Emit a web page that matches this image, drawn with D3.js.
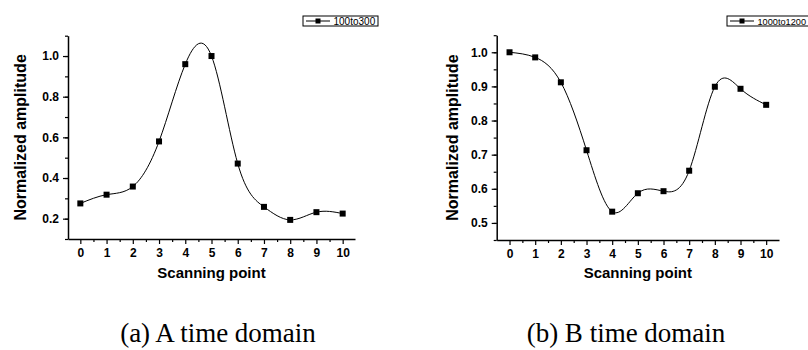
<!DOCTYPE html>
<html>
<head>
<meta charset="utf-8">
<script src="https://cdn.jsdelivr.net/npm/d3@7"></script>
<style>
  body { margin: 0; background: #fff; }
  svg { display: block; }
  .axis text { font-family: "Liberation Sans", Arial, sans-serif; font-weight: bold; font-size: 12px; }
  .title { font-family: "Liberation Sans", Arial, sans-serif; font-weight: bold; }
  .caption { font-family: "Liberation Serif", "Times New Roman", serif; font-size: 27px; }
  .legend text { font-family: "Liberation Sans", Arial, sans-serif; font-size: 10px; fill: #000; }
</style>
</head>
<body>
<svg id="chart" width="808" height="350"></svg>
<script>
// data
const scanPoints = [0, 1, 2, 3, 4, 5, 6, 7, 8, 9, 10];
const ampA = [0.275, 0.318, 0.358, 0.580, 0.960, 1.000, 0.471, 0.258, 0.194, 0.232, 0.225];
const ampB = [1.000, 0.985, 0.912, 0.713, 0.533, 0.587, 0.593, 0.653, 0.899, 0.893, 0.846];
const seriesNames = ['100to300', '1000to1200'];
const captions = ['(a) A time domain', '(b) B time domain'];
const yTicksA = [0.2, 0.4, 0.6, 0.8, 1.0];
const yTicksB = [0.5, 0.6, 0.7, 0.8, 0.9, 1.0];

const svg = d3.select('#chart');

const panels = [
    { values: ampA, name: seriesNames[0], caption: captions[0],
      xDomain: [-0.47, 10.47], xRange: [68, 355],
      yDomain: [0.1, 1.1], yRange: [239, 35.7],
      yTicks: yTicksA, yMinor: d3.range(0.1, 1.11, 0.1),
      legendX: 303, legendW: 75, legendFont: 10, yTitleX: 26, capX: 218 },
    { values: ampB, name: seriesNames[1], caption: captions[1],
      xDomain: [-0.5, 10.5], xRange: [496.7, 779],
      yDomain: [0.45, 1.05], yRange: [240, 35.2],
      yTicks: yTicksB, yMinor: d3.range(0.45, 1.051, 0.05),
      legendX: 727, legendW: 90, legendFont: 9.2, yTitleX: 458, capX: 626 }
];

panels.forEach(p => {
    const data = scanPoints.map((s, i) => ({ x: s, y: p.values[i] }));

    const xScale = d3.scaleLinear().domain(p.xDomain).range(p.xRange);
    const yScale = d3.scaleLinear().domain(p.yDomain).range(p.yRange);
    const yBottom = p.yRange[0];
    const xLeft = p.xRange[0];

    const g = svg.append('g');

    // minor ticks (no labels)
    const xMinor = d3.range(0.5, 10, 1);
    g.append('g')
        .attr('transform', `translate(0, ${yBottom})`)
        .call(d3.axisBottom(xScale).tickValues(xMinor).tickSize(3).tickFormat(''))
        .call(a => a.select('.domain').remove())
        .selectAll('line').attr('stroke-width', 1.2);

    g.append('g')
        .attr('transform', `translate(${xLeft}, 0)`)
        .call(d3.axisLeft(yScale).tickValues(p.yMinor).tickSize(3).tickFormat(''))
        .call(a => a.select('.domain').remove())
        .selectAll('line').attr('stroke-width', 1.2);

    // major axes
    const xAxisG = g.append('g')
        .attr('class', 'axis')
        .attr('transform', `translate(0, ${yBottom})`)
        .call(d3.axisBottom(xScale).tickValues(scanPoints).tickSize(5).tickPadding(4).tickSizeOuter(0));
    xAxisG.select('.domain').attr('stroke-width', 1.5);
    xAxisG.selectAll('.tick line').attr('stroke-width', 1.2);

    const yAxisG = g.append('g')
        .attr('class', 'axis')
        .attr('transform', `translate(${xLeft}, 0)`)
        .call(d3.axisLeft(yScale).tickValues(p.yTicks).tickFormat(d3.format('.1f')).tickSize(5).tickPadding(4).tickSizeOuter(0));
    yAxisG.select('.domain').attr('stroke-width', 1.5);
    yAxisG.selectAll('.tick line').attr('stroke-width', 1.2);

    // axis titles
    g.append('text')
        .attr('class', 'title')
        .attr('x', (p.xRange[0] + p.xRange[1]) / 2)
        .attr('y', 278)
        .attr('text-anchor', 'middle')
        .style('font-size', '15px')
        .text('Scanning point');

    g.append('text')
        .attr('class', 'title')
        .attr('transform', `translate(${p.yTitleX}, ${(p.yRange[0] + p.yRange[1]) / 2}) rotate(-90)`)
        .attr('text-anchor', 'middle')
        .style('font-size', '16px')
        .text('Normalized amplitude');

    // smooth spline through the points
    const line = d3.line()
        .x(d => xScale(d.x))
        .y(d => yScale(d.y))
        .curve(d3.curveNatural);

    g.append('path')
        .datum(data)
        .attr('d', line)
        .attr('fill', 'none')
        .attr('stroke', '#000')
        .attr('stroke-width', 1);

    g.selectAll('rect.pt')
        .data(data)
        .enter()
        .append('rect')
        .attr('class', 'pt')
        .attr('x', d => xScale(d.x) - 3)
        .attr('y', d => yScale(d.y) - 3)
        .attr('width', 6)
        .attr('height', 6)
        .attr('fill', '#000');

    // legend
    const lg = g.append('g')
        .attr('class', 'legend')
        .attr('transform', `translate(${p.legendX}, 16)`);
    lg.append('rect')
        .attr('width', p.legendW)
        .attr('height', 10)
        .attr('fill', '#fff')
        .attr('stroke', '#000')
        .attr('stroke-width', 1);
    lg.append('line')
        .attr('x1', 3).attr('x2', 27)
        .attr('y1', 5).attr('y2', 5)
        .attr('stroke', '#000');
    lg.append('rect')
        .attr('x', 12.5).attr('y', 2.5)
        .attr('width', 5).attr('height', 5)
        .attr('fill', '#000');
    lg.append('text')
        .attr('x', 30.5)
        .attr('y', 8.8)
        .style('font-size', p.legendFont + 'px')
        .text(p.name);

    // caption under the panel
    svg.append('text')
        .attr('class', 'caption')
        .attr('x', p.capX)
        .attr('y', 342)
        .attr('text-anchor', 'middle')
        .text(p.caption);
});
</script>
</body>
</html>
